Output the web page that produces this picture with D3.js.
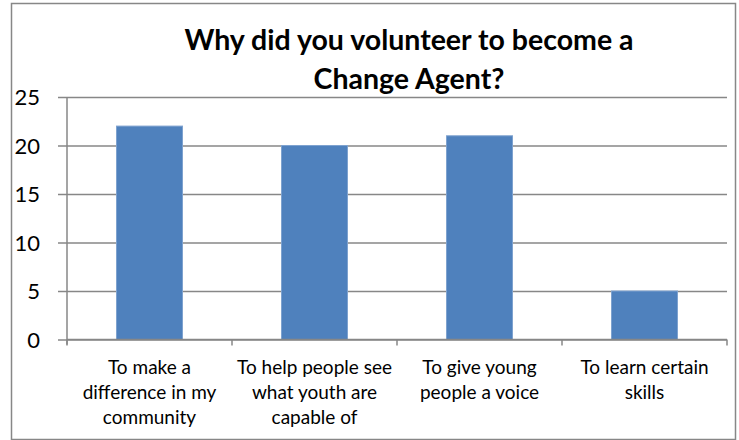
<!DOCTYPE html>
<html>
<head>
<meta charset="utf-8">
<script src="https://cdn.jsdelivr.net/npm/d3@7"></script>
<style>
  html, body { margin: 0; padding: 0; background: #fff; }
  svg { display: block; }
</style>
</head>
<body>
<svg id="chart" width="739" height="440"></svg>
<script>
// Survey answers: why each respondent volunteered
const categories = [
  "To make a difference in my community",
  "To help people see what youth are capable of",
  "To give young people a voice",
  "To learn certain skills"
];
const categoryLines = [
  ["To make a", "difference in my", "community"],
  ["To help people see", "what youth are", "capable of"],
  ["To give young", "people a voice"],
  ["To learn certain", "skills"]
];
const counts = [22, 20, 21, 5];
const yTicks = [0, 5, 10, 15, 20, 25];
const titleLines = ["Why did you volunteer to become a", "Change Agent?"];

const FONT = "Lato, 'Liberation Sans', Arial, sans-serif";
const GRID = "#878787";
const BAR = "#4F81BD";

const svg = d3.select("#chart");

// Outer chart frame
svg.append("rect")
  .attr("x", 11.5).attr("y", 3.5)
  .attr("width", 724).attr("height", 436)
  .attr("fill", "#fff")
  .attr("stroke", GRID).attr("stroke-width", 1.5);

const plot = { left: 67, right: 727, top: 97, bottom: 339.5 };

const x = d3.scaleBand()
  .domain(categories)
  .range([plot.left, plot.right])
  .paddingInner(0.6)
  .paddingOuter(0.3);

const y = d3.scaleLinear()
  .domain([0, 25])
  .range([plot.bottom, plot.top]);

// Horizontal gridlines with short outside ticks
const yAxis = d3.axisLeft(y)
  .tickValues(yTicks)
  .tickSize(-(plot.right - plot.left))
  .tickSizeOuter(0)
  .tickPadding(27)
  .tickFormat(d3.format("d"));

const gy = svg.append("g")
  .attr("transform", `translate(${plot.left},0)`)
  .call(yAxis);
gy.select(".domain").remove();
gy.selectAll(".tick line")
  .attr("x1", -9)
  .attr("stroke", GRID).attr("stroke-width", 1.5);
gy.selectAll(".tick text")
  .attr("font-family", FONT)
  .attr("font-size", 22)
  .attr("fill", "#000")
  .attr("dy", "0.36em");

// Vertical value axis line
svg.append("line")
  .attr("x1", plot.left).attr("x2", plot.left)
  .attr("y1", plot.top).attr("y2", plot.bottom + 5)
  .attr("stroke", GRID).attr("stroke-width", 1.5);

// Bars
svg.append("g")
  .selectAll("rect")
  .data(counts)
  .join("rect")
  .attr("x", (d, i) => x(categories[i]))
  .attr("y", d => y(d))
  .attr("width", x.bandwidth())
  .attr("height", d => y(0) - y(d))
  .attr("fill", BAR)
  .attr("stroke", "#7EA2CF")
  .attr("stroke-width", 1);

// Category axis: baseline and boundary ticks
const step = x.step();
const boundaries = d3.range(categories.length + 1)
  .map(i => plot.left + i * step);

svg.append("line")
  .attr("x1", plot.left).attr("x2", plot.right)
  .attr("y1", plot.bottom).attr("y2", plot.bottom)
  .attr("stroke", GRID).attr("stroke-width", 1.5);

svg.append("g")
  .selectAll("line")
  .data(boundaries)
  .join("line")
  .attr("x1", d => d).attr("x2", d => d)
  .attr("y1", plot.bottom).attr("y2", plot.bottom + 6)
  .attr("stroke", GRID).attr("stroke-width", 1.5);

// Category labels, wrapped onto several lines
const labels = svg.append("g")
  .selectAll("text")
  .data(categories)
  .join("text")
  .attr("x", d => x(d) + x.bandwidth() / 2)
  .attr("y", 374)
  .attr("text-anchor", "middle")
  .attr("font-family", FONT)
  .attr("font-size", 19)
  .attr("fill", "#000");
labels.each(function(d, i) {
  d3.select(this).selectAll("tspan")
    .data(categoryLines[i])
    .join("tspan")
    .attr("x", x(d) + x.bandwidth() / 2)
    .attr("dy", (t, j) => j === 0 ? 0 : 25)
    .text(t => t);
});

// Title
svg.append("text")
  .attr("x", 409).attr("y", 50)
  .attr("text-anchor", "middle")
  .attr("font-family", FONT)
  .attr("font-weight", "bold")
  .attr("font-size", 28.5)
  .attr("fill", "#000")
  .selectAll("tspan")
  .data(titleLines)
  .join("tspan")
  .attr("x", 409)
  .attr("dy", (t, j) => j === 0 ? 0 : 39)
  .text(t => t);
</script>
</body>
</html>
